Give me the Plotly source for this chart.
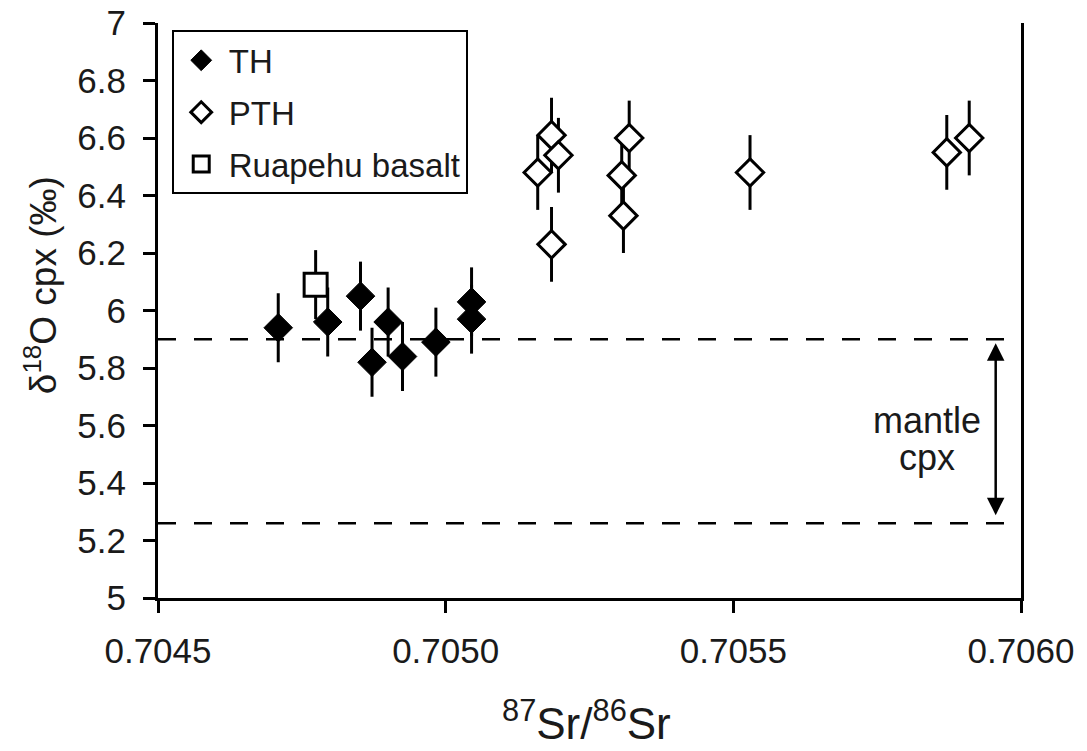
import plotly.graph_objects as go

# ---- data ----
th_sr = [0.704709, 0.704795, 0.704852, 0.704872, 0.704900, 0.704925, 0.704983, 0.705045, 0.705045]
th_d18o = [5.94, 5.96, 6.05, 5.82, 5.96, 5.84, 5.89, 6.03, 5.97]
th_err = 0.12

pth_sr = [0.705160, 0.705184, 0.705196, 0.705184, 0.705309, 0.705306, 0.705319, 0.705529, 0.705871, 0.705910]
pth_d18o = [6.48, 6.61, 6.54, 6.23, 6.33, 6.47, 6.60, 6.48, 6.55, 6.60]
pth_err = 0.13

ru_sr = [0.704774]
ru_d18o = [6.09]
ru_err = 0.12

mantle_range = [5.26, 5.90]

x_tickvals = [0.7045, 0.7050, 0.7055, 0.7060]
x_ticktext = ["0.7045", "0.7050", "0.7055", "0.7060"]
y_tickvals = [5.0, 5.2, 5.4, 5.6, 5.8, 6.0, 6.2, 6.4, 6.6, 6.8, 7.0]
y_ticktext = ["5", "5.2", "5.4", "5.6", "5.8", "6", "6.2", "6.4", "6.6", "6.8", "7"]

FONT = "Liberation Sans, Arial, Helvetica, sans-serif"
TXT = "#1a1a1a"

fig = go.Figure()

fig.add_trace(go.Scatter(
    x=ru_sr, y=ru_d18o, mode="markers", name="Ruapehu basalt",
    legendrank=3, legendgroup="c",
    marker=dict(symbol="square", size=23, color="white", line=dict(color="black", width=3)),
    error_y=dict(type="constant", value=ru_err, thickness=3, width=0, color="black"),
))
fig.add_trace(go.Scatter(
    x=pth_sr, y=pth_d18o, mode="markers", name="PTH",
    legendrank=2, legendgroup="b",
    marker=dict(symbol="diamond", size=21, color="white", line=dict(color="black", width=3)),
    error_y=dict(type="constant", value=pth_err, thickness=3, width=0, color="black"),
))
fig.add_trace(go.Scatter(
    x=th_sr, y=th_d18o, mode="markers", name="TH",
    legendrank=1, legendgroup="a",
    marker=dict(symbol="diamond", size=22, color="black", line=dict(color="black", width=1)),
    error_y=dict(type="constant", value=th_err, thickness=3, width=0, color="black"),
))

for yv in mantle_range:
    fig.add_shape(type="line", xref="x", yref="y", x0=x_tickvals[0], x1=x_tickvals[-1],
                  y0=yv, y1=yv, layer="below",
                  line=dict(color="black", width=2.5, dash="18px,18px"))

# double-headed arrow for mantle range
fig.add_annotation(x=0.705956, y=mantle_range[1] - 0.014, ax=0.705956, ay=mantle_range[0] + 0.023,
                   xref="x", yref="y", axref="x", ayref="y", text="", showarrow=True,
                   arrowside="end+start", arrowhead=2, startarrowhead=2,
                   arrowsize=1.4, startarrowsize=1.4, arrowwidth=2.5, arrowcolor="black")
fig.add_annotation(x=0.705837, y=5.619, xref="x", yref="y", text="mantle",
                   showarrow=False, font=dict(family=FONT, size=36, color=TXT))
fig.add_annotation(x=0.705837, y=5.487, xref="x", yref="y", text="cpx",
                   showarrow=False, font=dict(family=FONT, size=36, color=TXT))

# axis titles
fig.add_annotation(x=-0.1356, y=0.544, xref="paper", yref="paper",
                   text="δ<sup>18</sup>O cpx (‰)", textangle=-90, showarrow=False,
                   xanchor="center", yanchor="middle",
                   font=dict(family=FONT, size=37, color=TXT))
fig.add_annotation(x=0.497, y=-0.2642, xref="paper", yref="paper",
                   text="<sup>87</sup>Sr/<sup>86</sup>Sr", showarrow=False,
                   xanchor="center", yanchor="bottom",
                   font=dict(family=FONT, size=44, color=TXT))

fig.update_layout(
    width=1087, height=751,
    margin=dict(l=158, r=66, t=23, b=153),
    plot_bgcolor="white", paper_bgcolor="white",
    font=dict(family=FONT, color=TXT),
    showlegend=True,
    legend=dict(x=0.0159, y=0.9873, xanchor="left", yanchor="top",
                bordercolor="black", borderwidth=2, bgcolor="white",
                font=dict(family=FONT, size=33, color=TXT),
                itemwidth=45,
                traceorder="grouped", tracegroupgap=6),
    xaxis=dict(range=[x_tickvals[0], x_tickvals[-1]], tickvals=x_tickvals, ticktext=x_ticktext,
               ticks="outside", ticklen=12, tickwidth=3, tickcolor="black",
               showline=True, linewidth=3, linecolor="black",
               showgrid=False, zeroline=False, automargin=False,
               ticklabelstandoff=8,
               tickfont=dict(family=FONT, size=35, color=TXT)),
    yaxis=dict(range=[y_tickvals[0], y_tickvals[-1]], tickvals=y_tickvals, ticktext=y_ticktext,
               ticks="outside", ticklen=12, tickwidth=3, tickcolor="black",
               showline=True, linewidth=3, linecolor="black", mirror=True,
               showgrid=False, zeroline=False, automargin=False,
               ticklabelstandoff=10,
               tickfont=dict(family=FONT, size=35, color=TXT)),
)

fig.write_html("out.html")
